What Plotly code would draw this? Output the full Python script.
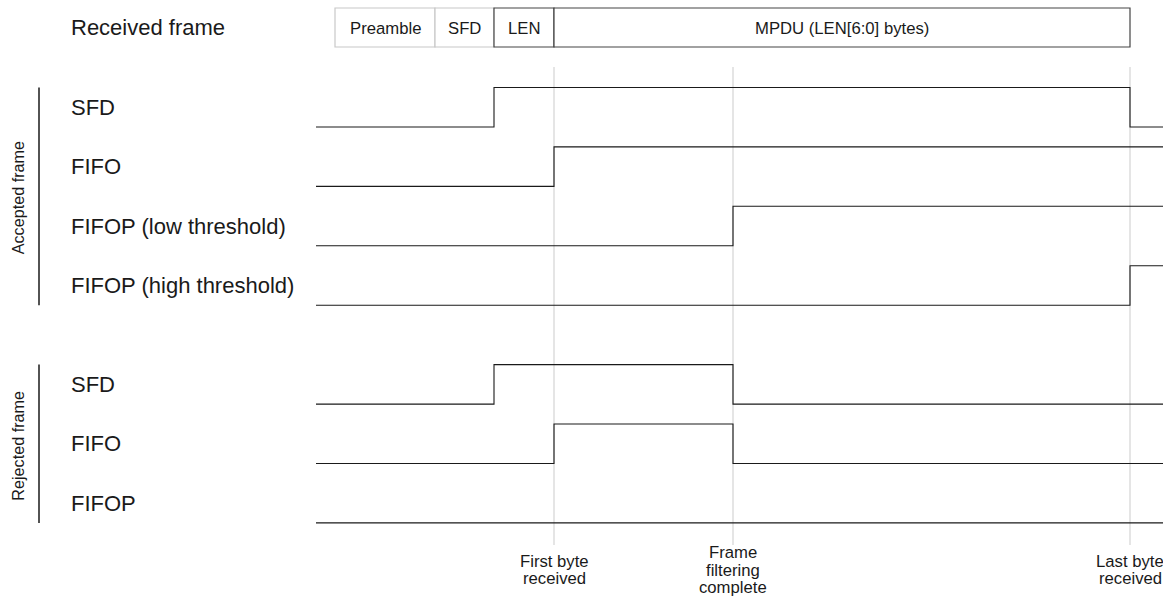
"""
RX TIMING DIAGRAM
=================
SFD / FIFO / FIFOP pin behaviour for an accepted and a rejected frame.
"""

import plotly.graph_objects as go

# ── data ────────────────────────────────────────────────────────────────────
# time axis (arbitrary units, left to right)
T_START = 316
T_END   = 1163

FIELD_NAMES = ["Preamble", "SFD", "LEN", "MPDU (LEN[6:0] bytes)"]
FIELD_EDGES = [335, 435, 494, 554, 1130]
FIELD_DARK  = [False, False, True, True]

EVENT_TIMES  = [554, 733, 1130]
EVENT_LABELS = [["First byte", "received"],
                ["Frame", "filtering", "complete"],
                ["Last byte", "received"]]

GROUPS = ["Accepted frame", "Rejected frame"]

ACC_NAMES  = ["SFD", "FIFO", "FIFOP (low threshold)", "FIFOP (high threshold)"]
ACC_TIMES  = [[316, 494, 1130, 1163],
              [316, 554, 1163],
              [316, 733, 1163],
              [316, 1130, 1163]]
ACC_LEVELS = [[0, 1, 0, 0],
              [0, 1, 1],
              [0, 1, 1],
              [0, 1, 1]]

REJ_NAMES  = ["SFD", "FIFO", "FIFOP"]
REJ_TIMES  = [[316, 494, 733, 1163],
              [316, 554, 733, 1163],
              [316, 1163]]
REJ_LEVELS = [[0, 1, 0, 0],
              [0, 1, 0, 0],
              [0, 0]]

# ── layout constants ────────────────────────────────────────────────────────
FONT   = "Liberation Sans, Arial, sans-serif"
INK    = "#1a1a1a"
GUIDE  = "#dcdcdc"
LIGHT  = "#c8c8c8"

W, H      = 1163, 600
ROW0      = 127     # baseline of first signal
ROW_STEP  = 59.4
GROUP_GAP = 39.5
AMP       = 39.5    # high level height
LABEL_X   = 69
BRACKET_X = 39
HEAD_Y0, HEAD_Y1 = 8, 47
BIG, SMALL = 22, 16.7


def _row_baselines():
    rows, y = [], ROW0
    for g, names in enumerate([ACC_NAMES, REJ_NAMES]):
        grp = []
        for _ in names:
            grp.append(y)
            y += ROW_STEP
        rows.append(grp)
        y += GROUP_GAP
    return rows


def timing_diagram() -> go.Figure:
    fig = go.Figure()
    rows = _row_baselines()
    shapes, ann = [], []

    # vertical event guides
    for t in EVENT_TIMES:
        shapes.append(dict(type="line", x0=t, x1=t, y0=67, y1=545,
                           line=dict(color=GUIDE, width=1.5), layer="below"))

    # header: received frame fields
    ann.append(dict(x=LABEL_X, y=(HEAD_Y0 + HEAD_Y1) / 2, text="Received frame",
                    xanchor="left", yanchor="middle", showarrow=False,
                    font=dict(size=BIG, color=INK)))
    order = sorted(range(len(FIELD_NAMES)), key=lambda i: FIELD_DARK[i])
    for i in order:
        x0, x1 = FIELD_EDGES[i], FIELD_EDGES[i + 1]
        shapes.append(dict(type="rect", x0=x0, x1=x1, y0=HEAD_Y0, y1=HEAD_Y1,
                           fillcolor="white",
                           line=dict(color="#444" if FIELD_DARK[i] else LIGHT, width=1.2)))
    for i, name in enumerate(FIELD_NAMES):
        ann.append(dict(x=(FIELD_EDGES[i] + FIELD_EDGES[i + 1]) / 2,
                        y=(HEAD_Y0 + HEAD_Y1) / 2 + 1, text=name,
                        showarrow=False, xanchor="center", yanchor="middle",
                        font=dict(size=SMALL, color=INK)))

    # signals
    for g, (names, times, levels) in enumerate([(ACC_NAMES, ACC_TIMES, ACC_LEVELS),
                                                (REJ_NAMES, REJ_TIMES, REJ_LEVELS)]):
        for k, name in enumerate(names):
            base = rows[g][k]
            fig.add_trace(go.Scatter(
                x=times[k],
                y=[base - AMP * v for v in levels[k]],
                mode="lines",
                line=dict(color=INK, width=1.1, shape="hv"),
                name=f"{GROUPS[g]} – {name}",
                hoverinfo="skip",
            ))
            ann.append(dict(x=LABEL_X, y=base - AMP / 2, text=name,
                            xanchor="left", yanchor="middle", showarrow=False,
                            font=dict(size=BIG, color=INK)))

        top, bot = rows[g][0] - AMP, rows[g][-1]
        shapes.append(dict(type="line", x0=BRACKET_X, x1=BRACKET_X, y0=top, y1=bot,
                           line=dict(color=INK, width=1.5)))
        ann.append(dict(x=18, y=(top + bot) / 2 + 2, text=GROUPS[g], textangle=-90,
                        xanchor="center", yanchor="middle", showarrow=False,
                        font=dict(size=16.2, color=INK)))

    # event captions under the guides
    for t, lines in zip(EVENT_TIMES, EVENT_LABELS):
        y0 = 570 - (len(lines) - 1) * 17.5 / 2
        for j, line in enumerate(lines):
            ann.append(dict(x=t, y=y0 + j * 17.5, text=line, showarrow=False,
                            xanchor="center", yanchor="middle",
                            font=dict(size=SMALL, color=INK)))

    fig.update_layout(
        width=W, height=H, autosize=False,
        margin=dict(l=0, r=0, t=0, b=0),
        plot_bgcolor="white", paper_bgcolor="white",
        font=dict(family=FONT, color=INK),
        showlegend=False,
        xaxis=dict(range=[0, W], visible=False, fixedrange=True),
        yaxis=dict(range=[H, 0], visible=False, fixedrange=True),
        shapes=shapes,
        annotations=ann,
    )
    return fig


fig = timing_diagram()
# drop the browser's default 8px body margin so the figure fills the window
fig.write_html("out.html", config={"displayModeBar": False},
               post_script="document.body.style.margin='0';"
                           "document.body.style.overflow='hidden';")
